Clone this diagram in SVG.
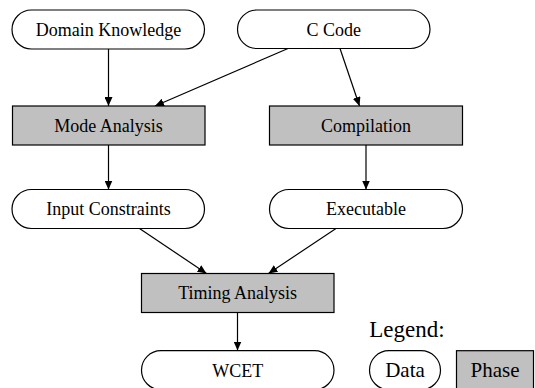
<svg xmlns="http://www.w3.org/2000/svg" width="535" height="388" viewBox="0 0 535 388">
<style>
.data{fill:#fff;stroke:#000;stroke-width:1.2}
.phase{fill:#c0c0c0;stroke:#000;stroke-width:1.2}
text{font-family:"Liberation Serif","Times New Roman",serif;font-size:18px;fill:#000;text-anchor:middle}
.leg{font-size:21px}
.edge{stroke:#000;stroke-width:1.2;fill:none;marker-end:url(#arr)}
</style>
<defs>
<marker id="arr" markerUnits="userSpaceOnUse" markerWidth="10" markerHeight="8" refX="9" refY="4" orient="auto">
<path d="M0,0 L9,4 L0,8 Z" fill="#000"/>
</marker>
</defs>
<rect width="535" height="388" fill="#fff"/>
<g id="connectors">
<line class="edge" x1="108.5" y1="49" x2="108.5" y2="106"/>
<line class="edge" x1="288" y1="48.5" x2="155" y2="106"/>
<line class="edge" x1="340" y1="48.5" x2="359.5" y2="106"/>
<line class="edge" x1="108.5" y1="145" x2="108.5" y2="189.5"/>
<line class="edge" x1="366" y1="145" x2="366" y2="189.5"/>
<line class="edge" x1="139.5" y1="228.5" x2="206.5" y2="273.5"/>
<line class="edge" x1="336" y1="228.5" x2="268.5" y2="273.5"/>
<line class="edge" x1="237.5" y1="312.5" x2="237.5" y2="350.5"/>
</g>
<g id="domain-knowledge">
<rect class="data" x="12" y="10" width="192.5" height="39" rx="19.5" ry="19.5"/>
<text x="108.5" y="35.5">Domain Knowledge</text>
</g>
<g id="c-code">
<rect class="data" x="237.5" y="10" width="192.5" height="38.5" rx="19.5" ry="19.5"/>
<text x="333.7" y="35.5">C Code</text>
</g>
<g id="mode-analysis">
<rect class="phase" x="12.5" y="106" width="192.5" height="39"/>
<text x="108.5" y="131.5">Mode Analysis</text>
</g>
<g id="compilation">
<rect class="phase" x="269.5" y="106" width="193" height="39"/>
<text x="366" y="131.5">Compilation</text>
</g>
<g id="input-constraints">
<rect class="data" x="12" y="189.5" width="192.5" height="39" rx="19.5" ry="19.5"/>
<text x="108.5" y="215">Input Constraints</text>
</g>
<g id="executable">
<rect class="data" x="269.5" y="189.5" width="193" height="39" rx="19.5" ry="19.5"/>
<text x="366" y="215">Executable</text>
</g>
<g id="timing-analysis">
<rect class="phase" x="141.5" y="273.5" width="192.5" height="39"/>
<text x="237.7" y="299">Timing Analysis</text>
</g>
<g id="wcet">
<rect class="data" x="141.5" y="350.7" width="192.5" height="39" rx="19.5" ry="19.5"/>
<text x="237.7" y="376.5">WCET</text>
</g>
<g id="legend">
<text x="369.3" y="336.7" style="font-size:23px;text-anchor:start">Legend:</text>
<g id="legend-data">
<rect class="data" x="369.5" y="350.7" width="71" height="39" rx="19.5" ry="19.5"/>
<text class="leg" x="405" y="377">Data</text>
</g>
<g id="legend-phase">
<rect class="phase" x="456.5" y="350.7" width="77" height="39"/>
<text class="leg" x="495" y="377">Phase</text>
</g>
</g>
</svg>
